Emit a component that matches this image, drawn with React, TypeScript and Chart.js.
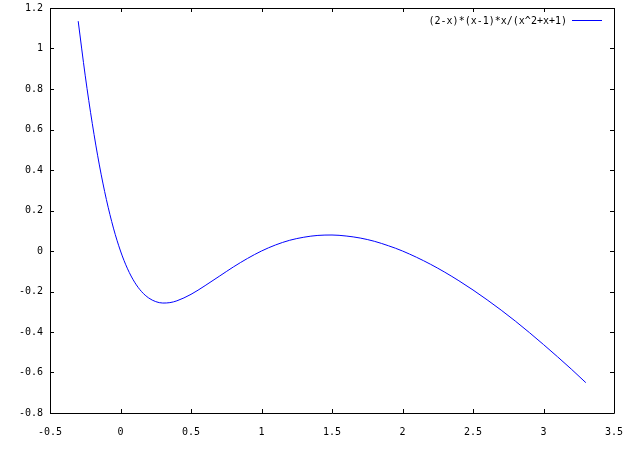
import React, { useEffect, useRef } from "react";
import { Chart, registerables } from "chart.js";

Chart.register(...registerables);

const seriesLabel = "(2-x)*(x-1)*x/(x^2+x+1)";
const xValues = [
  -0.3, -0.25, -0.2, -0.15, -0.1, -0.05, 0, 0.05, 0.1, 0.15, 0.2, 0.25, 0.3, 0.35, 0.4, 0.5, 0.6,
  0.7, 0.8, 0.9, 1.0, 1.1, 1.2, 1.3, 1.4, 1.5, 1.6, 1.7, 1.8, 1.9, 2.0, 2.2, 2.4, 2.6, 2.8, 3.0,
  3.2, 3.3,
];
const yValues = [
  1.135, 0.865, 0.629, 0.425, 0.254, 0.113, 0, -0.088, -0.154, -0.201, -0.232, -0.25, -0.257,
  -0.255, -0.246, -0.214, -0.171, -0.125, -0.079, -0.037, 0, 0.03, 0.053, 0.068, 0.077, 0.079,
  0.074, 0.064, 0.048, 0.026, 0, -0.066, -0.147, -0.241, -0.346, -0.462, -0.585, -0.65,
];
const xTicks = [-0.5, 0, 0.5, 1, 1.5, 2, 2.5, 3, 3.5];
const yTicks = [-0.8, -0.6, -0.4, -0.2, 0, 0.2, 0.4, 0.6, 0.8, 1, 1.2];

const FONT = "DejaVu Sans Mono";

const fmt = (v: number) => String(Number(v.toFixed(1)));

const framePlugin = {
  id: "gnuFrame",
  afterDraw(chart: any) {
    const { ctx, chartArea } = chart;
    const { left, right, top, bottom } = chartArea;
    const xs = chart.scales.x;
    const ys = chart.scales.y;
    const tl = 4;
    ctx.save();
    ctx.strokeStyle = "#000";
    ctx.lineWidth = 1;
    ctx.beginPath();
    ctx.rect(Math.round(left) + 0.5, Math.round(top) + 0.5, Math.round(right - left), Math.round(bottom - top));
    xTicks.forEach((t) => {
      const px = Math.round(xs.getPixelForValue(t)) + 0.5;
      ctx.moveTo(px, bottom);
      ctx.lineTo(px, bottom - tl);
      ctx.moveTo(px, top);
      ctx.lineTo(px, top + tl);
    });
    yTicks.forEach((t) => {
      const py = Math.round(ys.getPixelForValue(t)) + 0.5;
      ctx.moveTo(left, py);
      ctx.lineTo(left + tl, py);
      ctx.moveTo(right, py);
      ctx.lineTo(right - tl, py);
    });
    ctx.stroke();
    // key
    const label = chart.data.datasets[0].label;
    ctx.font = `10px "${FONT}"`;
    ctx.fillStyle = "#000";
    ctx.textAlign = "right";
    ctx.textBaseline = "middle";
    ctx.fillText(label, 567, 21);
    ctx.strokeStyle = "#0000ff";
    ctx.beginPath();
    ctx.moveTo(572, 20.5);
    ctx.lineTo(602, 20.5);
    ctx.stroke();
    ctx.restore();
  },
};

export default function App() {
  const ref = useRef<HTMLCanvasElement>(null);
  useEffect(() => {
    if (!ref.current) return;
    const chart = new Chart(ref.current, {
      type: "scatter",
      data: {
        datasets: [
          {
            label: seriesLabel,
            data: xValues.map((x, i) => ({ x, y: yValues[i] })),
            showLine: true,
            borderColor: "#0000ff",
            borderWidth: 1,
            pointRadius: 0,
            cubicInterpolationMode: "monotone",
            fill: false,
          },
        ],
      },
      options: {
        animation: false,
        responsive: false,
        devicePixelRatio: 1,
        layout: { padding: { top: 8, right: 26, left: 0, bottom: 0 } },
        plugins: { legend: { display: false }, tooltip: { enabled: false } },
        scales: {
          x: {
            type: "linear",
            min: -0.5,
            max: 3.5,
            afterBuildTicks: (s: any) => {
              s.ticks = xTicks.map((v) => ({ value: v }));
            },
            afterFit: (s: any) => {
              s.height = 37;
              s.paddingLeft = 0;
              s.paddingRight = 0;
            },
            grid: { display: false, drawTicks: false },
            border: { display: false },
            ticks: {
              color: "#000",
              font: { family: FONT, size: 10 },
              padding: 13,
              maxRotation: 0,
              callback: (v: any) => fmt(Number(v)),
            },
          },
          y: {
            type: "linear",
            min: -0.8,
            max: 1.2,
            afterBuildTicks: (s: any) => {
              s.ticks = yTicks.map((v) => ({ value: v }));
            },
            afterFit: (s: any) => {
              s.width = 50;
              s.paddingTop = 0;
              s.paddingBottom = 0;
            },
            grid: { display: false, drawTicks: false },
            border: { display: false },
            ticks: {
              color: "#000",
              font: { family: FONT, size: 10 },
              padding: 7,
              callback: (v: any) => fmt(Number(v)),
            },
          },
        },
      },
      plugins: [framePlugin],
    } as any);
    return () => chart.destroy();
  }, []);
  return (
    <div style={{ position: "fixed", left: 0, top: 0, width: 640, height: 450, background: "#fff" }}>
      <canvas ref={ref} width={640} height={450} style={{ width: 640, height: 450, display: "block" }} />
    </div>
  );
}
